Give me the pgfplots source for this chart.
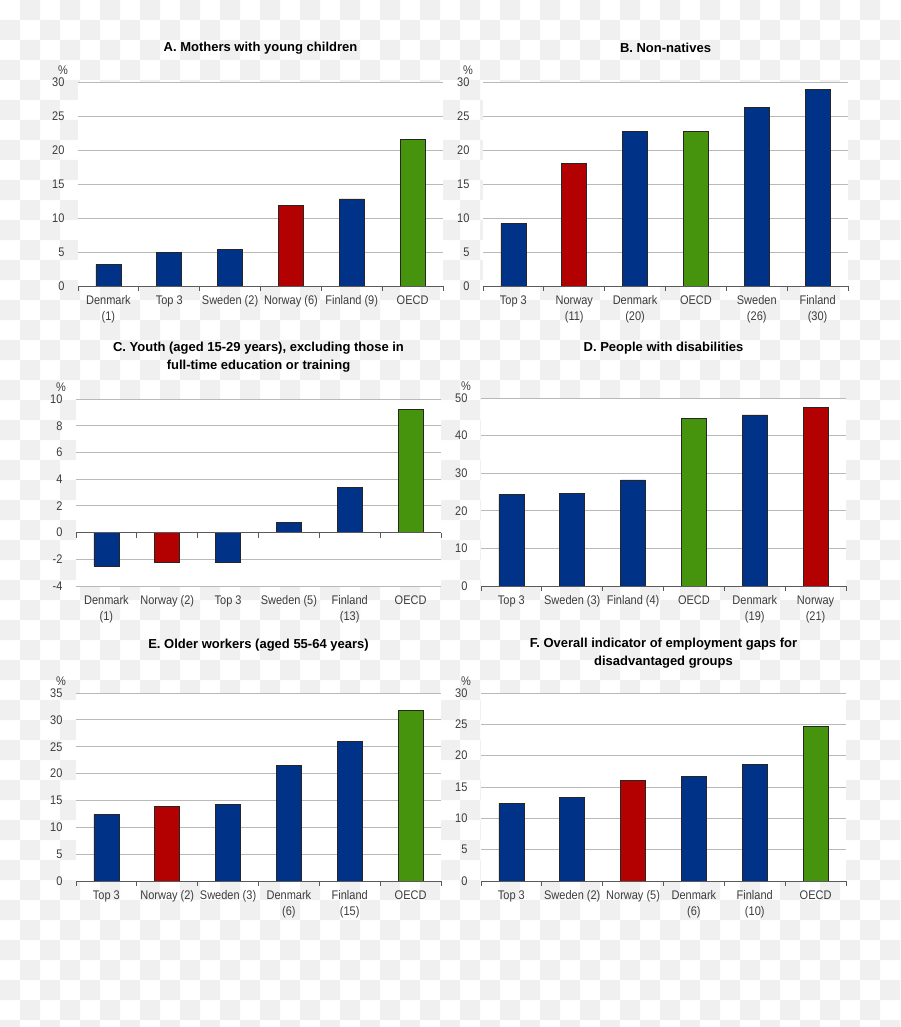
\documentclass[border=0pt]{standalone}
\usepackage{fontspec}
\setmainfont{Liberation Sans}
\newfontfamily\tickfont[FakeStretch=0.88]{Liberation Sans}
\usepackage{pgfplots}
\pgfplotsset{compat=1.18}

\definecolor{blueC}{RGB}{0,51,136}
\definecolor{redC}{RGB}{179,0,0}
\definecolor{greenC}{RGB}{70,148,14}
\definecolor{gridgray}{RGB}{185,185,185}
\definecolor{axisgray}{RGB}{90,90,90}
\definecolor{labelgray}{RGB}{60,60,60}
\definecolor{checkgray}{RGB}{240,240,240}

\pgfplotsset{
  panel/.style={
    scale only axis, width=365pt,
    ybar, bar width=25pt, bar shift=0pt,
    xmin=-0.5, xmax=5.5, xtick={0,...,5},
    axis line style={draw=none}, tick style={draw=none},
    ymajorgrids, grid style={draw=gridgray, line width=1pt},
    axis background/.style={fill=white},
    clip=false,
    tick label style={font=\tickfont\fontsize{12.5}{16}\selectfont, text=labelgray},
    /pgf/number format/assume math mode=true,
    xticklabel style={align=center, anchor=north, yshift=-2pt},
    yticklabel style={xshift=-10pt},
    title style={font=\bfseries\fontsize{13}{18}\selectfont, align=center,
      at={(0.5,1)}, anchor=center},
  },
  mybar/.style={draw=black!85, line width=0.8pt},
}

% zero line with small ticks between the categories, and the % sign
\newcommand\zeroline{%
  \draw[axisgray, line width=1pt] (axis cs:-0.5,0) -- (axis cs:5.5,0);
  \pgfplotsinvokeforeach{-0.5,0.5,1.5,2.5,3.5,4.5,5.5}{%
    \draw[axisgray, line width=1pt] (axis cs:##1,0) -- ++(0pt,-5pt);}
  \node[font=\tickfont\fontsize{12.5}{14}\selectfont, text=labelgray, xshift=-15pt, yshift=12pt]
    at (rel axis cs:0,1) {\%};
}

\begin{document}
\begin{tikzpicture}
\useasboundingbox (0,0) rectangle (900pt,-1027pt);
% transparent-background checkerboard
\fill[checkgray] \foreach \i in {0,2,...,44} {\foreach \j in {1,3,...,51} {(\i*20pt,-\j*20pt) rectangle ++(20pt,-20pt)}};
\fill[checkgray] \foreach \i in {1,3,...,43} {\foreach \j in {0,2,...,50} {(\i*20pt,-\j*20pt) rectangle ++(20pt,-20pt)}};

% A
\begin{axis}[panel, at={(78pt,-286pt)}, anchor=south west, height=204pt,
  ymin=0, ymax=30, ytick={0,5,...,30},
  title={A. Mothers with young children}, title style={yshift=28pt},
  xticklabels={{Denmark\\(1)},{Top 3},{Sweden (2)},{Norway (6)},{Finland (9)},{OECD}}]
\addplot[mybar, fill=blueC] coordinates {(0,3.15) (1,4.9) (2,5.4) (4,12.8)};
\addplot[mybar, fill=redC] coordinates {(3,11.9)};
\addplot[mybar, fill=greenC] coordinates {(5,21.6)};
\zeroline
\end{axis}

% B
\begin{axis}[panel, at={(483pt,-286pt)}, anchor=south west, height=204pt,
  ymin=0, ymax=30, ytick={0,5,...,30},
  title={B. Non-natives}, title style={yshift=28pt},
  xticklabels={{Top 3},{Norway\\(11)},{Denmark\\(20)},{OECD},{Sweden\\(26)},{Finland\\(30)}}]
\addplot[mybar, fill=blueC] coordinates {(0,9.2) (2,22.7) (4,26.3) (5,28.9)};
\addplot[mybar, fill=redC] coordinates {(1,18.05)};
\addplot[mybar, fill=greenC] coordinates {(3,22.8)};
\zeroline
\end{axis}

% C
\begin{axis}[panel, at={(76pt,-586pt)}, anchor=south west, height=187pt,
  ymin=-4, ymax=10, ytick={-4,-2,...,10},
  title={C. Youth (aged 15-29 years), excluding those in\\full-time education or training},
  title style={yshift=36pt},
  xticklabels={{Denmark\\(1)},{Norway (2)},{Top 3},{Sweden (5)},{Finland\\(13)},{OECD}}]
\addplot[mybar, fill=blueC] coordinates {(0,-2.5) (2,-2.2) (3,0.73) (4,3.4)};
\addplot[mybar, fill=redC] coordinates {(1,-2.25)};
\addplot[mybar, fill=greenC] coordinates {(5,9.24)};
\zeroline
\end{axis}

% D
\begin{axis}[panel, at={(481pt,-586pt)}, anchor=south west, height=188pt,
  ymin=0, ymax=50, ytick={0,10,...,50},
  title={D. People with disabilities}, title style={yshift=44pt},
  xticklabels={{Top 3},{Sweden (3)},{Finland (4)},{OECD},{Denmark\\(19)},{Norway\\(21)}}]
\addplot[mybar, fill=blueC] coordinates {(0,24.3) (1,24.7) (2,28.2) (4,45.5)};
\addplot[mybar, fill=redC] coordinates {(5,47.5)};
\addplot[mybar, fill=greenC] coordinates {(3,44.7)};
\zeroline
\end{axis}

% E
\begin{axis}[panel, at={(76pt,-881pt)}, anchor=south west, height=188pt,
  ymin=0, ymax=35, ytick={0,5,...,35},
  title={E. Older workers (aged 55-64 years)}, title style={yshift=42pt},
  xticklabels={{Top 3},{Norway (2)},{Sweden (3)},{Denmark\\(6)},{Finland\\(15)},{OECD}}]
\addplot[mybar, fill=blueC] coordinates {(0,12.4) (2,14.2) (3,21.5) (4,26.0)};
\addplot[mybar, fill=redC] coordinates {(1,13.9)};
\addplot[mybar, fill=greenC] coordinates {(5,31.8)};
\zeroline
\end{axis}

% F
\begin{axis}[panel, at={(481pt,-881pt)}, anchor=south west, height=188pt,
  ymin=0, ymax=30, ytick={0,5,...,30},
  title={F. Overall indicator of employment gaps for\\disadvantaged groups},
  title style={yshift=34pt},
  xticklabels={{Top 3},{Sweden (2)},{Norway (5)},{Denmark\\(6)},{Finland\\(10)},{OECD}}]
\addplot[mybar, fill=blueC] coordinates {(0,12.4) (1,13.3) (3,16.7) (4,18.6)};
\addplot[mybar, fill=redC] coordinates {(2,16.0)};
\addplot[mybar, fill=greenC] coordinates {(5,24.6)};
\zeroline
\end{axis}
\end{tikzpicture}
\end{document}
